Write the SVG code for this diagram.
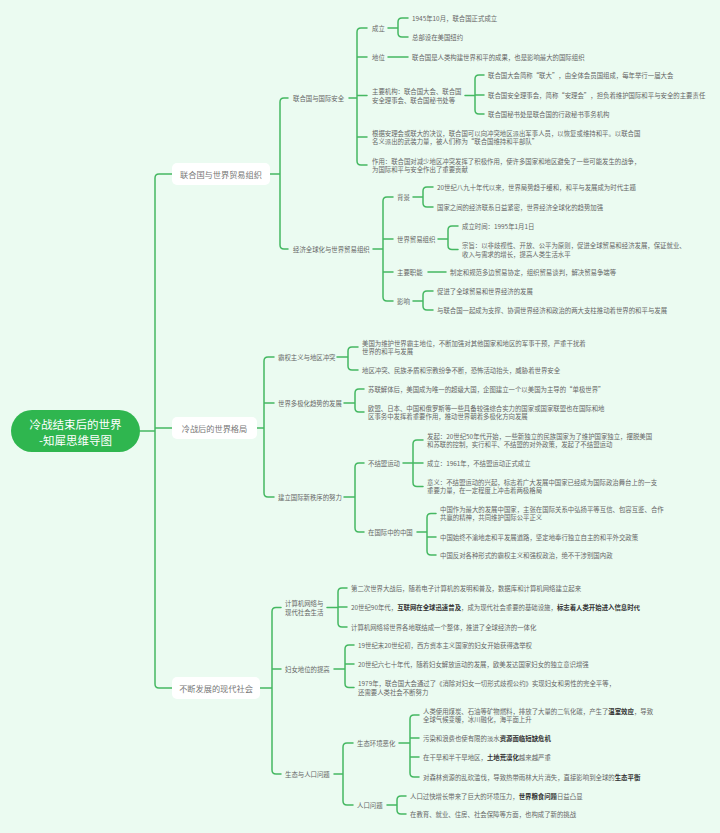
<svg xmlns="http://www.w3.org/2000/svg" width="720" height="833" viewBox="0 0 720 833">
<style>
.bg{fill:#EBFBF1}
.c path{fill:none;stroke:#45B862;stroke-width:1.5;stroke-linecap:round}
text{font-family:"Noto Sans CJK SC","Noto Sans",sans-serif;dominant-baseline:central}
.t{font-size:6.4px;fill:#666}
.l1{font-size:8.2px;fill:#777;text-anchor:middle}
.box{fill:#FFFFFF}
.root{fill:#2FB64F}
.rt{font-size:11.5px;fill:#FFFFFF;text-anchor:middle}
.b{font-weight:bold;fill:#333}
</style>
<rect class="bg" x="0" y="0" width="720" height="833"/>
<g class="c" id="connectors">
<path d="M140,431 H155 M172,174 H159 Q155,174 155,178 V684 Q155,688 159,688 H172 M155,428 H172"/>
<path d="M270,174 H280 M288,98 H284 Q280,98 280,102 V245 Q280,249 284,249 H288"/>
<path d="M349,98 H357 M367,28 H361 Q357,28 357,32 V161 Q357,165 361,165 H367 M357,57 H367 M357,95.5 H367 M357,137 H367"/>
<path d="M388,28 H398 M408,18 H402 Q398,18 398,22 V33 Q398,37 402,37 H408"/>
<path d="M388,57 H408"/>
<path d="M465,95.5 H475 M484,75 H479 Q475,75 475,79 V110 Q475,114 479,114 H484 M475,95 H484"/>
<path d="M373,249 H383 M393,197 H387 Q383,197 383,201 V297 Q383,301 387,301 H393 M383,239 H393 M383,272 H393"/>
<path d="M413,197 H423 M433,187 H427 Q423,187 423,191 V203 Q423,207 427,207 H433"/>
<path d="M438,239 H448 M458,226 H452 Q448,226 448,230 V245.5 Q448,249.5 452,249.5 H458"/>
<path d="M428,272 H446"/>
<path d="M413,301 H423 M433,291 H427 Q423,291 423,295 V306 Q423,310 427,310 H433"/>
<path d="M257,428 H264 M274,357 H268 Q264,357 264,361 V493 Q264,497 268,497 H274 M264,403 H274"/>
<path d="M337,357 H348 M358,347 H352 Q348,347 348,351 V366 Q348,370 352,370 H358"/>
<path d="M344,403 H355 M364,389 H359 Q355,389 355,393 V408 Q355,412 359,412 H364"/>
<path d="M344,497 H355 M364,463 H359 Q355,463 355,467 V528 Q355,532 359,532 H364"/>
<path d="M403,463 H413 M423,440 H417 Q413,440 413,444 V482.5 Q413,486.5 417,486.5 H423 M413,463 H423"/>
<path d="M417,532 H427 M436,513.5 H431 Q427,513.5 427,517.5 V551 Q427,555 431,555 H436 M427,537 H436"/>
<path d="M260,688 H272 M281,607.5 H276 Q272,607.5 272,611.5 V770 Q272,774 276,774 H281 M272,669 H281"/>
<path d="M327,607.5 H338 M347,588 H342 Q338,588 338,592 V623 Q338,627 342,627 H347 M338,607 H347"/>
<path d="M334,669 H345 M354,645 H349 Q345,645 345,649 V683.5 Q345,687.5 349,687.5 H354 M345,664 H354"/>
<path d="M334,774 H343 M353,743 H347 Q343,743 343,747 V801 Q343,805 347,805 H353"/>
<path d="M399,743 H410 M419,715 H414 Q410,715 410,719 V773 Q410,777 414,777 H419 M410,738 H419 M410,757 H419"/>
<path d="M387,805 H397 M406,796 H401 Q397,796 397,800 V810 Q397,814 401,814 H406"/>
</g>
<g id="root">
<rect class="root" x="11" y="410" width="129" height="42" rx="21"/>
<text class="rt" x="75.5" y="423.5">冷战结束后的世界</text>
<text class="rt" x="75.5" y="439.5">-知犀思维导图</text>
</g>
<g id="n1">
<rect class="box" x="172" y="163" width="98" height="22" rx="5"/>
<text class="l1" x="221" y="174">联合国与世界贸易组织</text>
</g>
<g id="n2">
<rect class="box" x="172" y="417" width="85" height="22" rx="5"/>
<text class="l1" x="214.5" y="428">冷战后的世界格局</text>
</g>
<g id="n3">
<rect class="box" x="172" y="677" width="88" height="22" rx="5"/>
<text class="l1" x="216" y="688">不断发展的现代社会</text>
</g>
<g id="n1a"><text class="t" x="293" y="98">联合国与国际安全</text></g>
<g id="n1a1"><text class="t" x="372" y="28">成立</text></g>
<g id="n1a1a"><text class="t" x="412" y="18">1945年10月，联合国正式成立</text></g>
<g id="n1a1b"><text class="t" x="412" y="37">总部设在美国纽约</text></g>
<g id="n1a2"><text class="t" x="372" y="57">地位</text></g>
<g id="n1a2a"><text class="t" x="412" y="57">联合国是人类构建世界和平的成果，也是影响最大的国际组织</text></g>
<g id="n1a3"><text class="t" x="372" y="91">主要机构：联合国大会、联合国</text><text class="t" x="372" y="100.5">安全理事会、联合国秘书处等</text></g>
<g id="n1a3a"><text class="t" x="488" y="75">联合国大会简称“联大”，由全体会员国组成，每年举行一届大会</text></g>
<g id="n1a3b"><text class="t" x="488" y="95">联合国安全理事会，简称“安理会”，担负着维护国际和平与安全的主要责任</text></g>
<g id="n1a3c"><text class="t" x="488" y="114">联合国秘书处是联合国的行政秘书事务机构</text></g>
<g id="n1a4"><text class="t" x="372" y="133">根据安理会或联大的决议，联合国可以向冲突地区派出军事人员，以恢复或维持和平。以联合国</text><text class="t" x="372" y="141.5">名义派出的武装力量，被人们称为“联合国维持和平部队”</text></g>
<g id="n1a5"><text class="t" x="372" y="161">作用：联合国对减少地区冲突发挥了积极作用，使许多国家和地区避免了一些可能发生的战争，</text><text class="t" x="372" y="169.5">为国际和平与安全作出了重要贡献</text></g>
<g id="n1b"><text class="t" x="293" y="249">经济全球化与世界贸易组织</text></g>
<g id="n1b1"><text class="t" x="397" y="197">背景</text></g>
<g id="n1b1a"><text class="t" x="437" y="187">20世纪八九十年代以来，世界局势趋于缓和，和平与发展成为时代主题</text></g>
<g id="n1b1b"><text class="t" x="437" y="207">国家之间的经济联系日益紧密，世界经济全球化的趋势加强</text></g>
<g id="n1b2"><text class="t" x="397" y="239">世界贸易组织</text></g>
<g id="n1b2a"><text class="t" x="462" y="226">成立时间：1995年1月1日</text></g>
<g id="n1b2b"><text class="t" x="462" y="245">宗旨：以非歧视性、开放、公平为原则，促进全球贸易和经济发展，保证就业、</text><text class="t" x="462" y="254">收入与需求的增长，提高人类生活水平</text></g>
<g id="n1b3"><text class="t" x="397" y="272">主要职能</text></g>
<g id="n1b3a"><text class="t" x="450" y="272">制定和规范多边贸易协定，组织贸易谈判，解决贸易争端等</text></g>
<g id="n1b4"><text class="t" x="397" y="301">影响</text></g>
<g id="n1b4a"><text class="t" x="437" y="291">促进了全球贸易和世界经济的发展</text></g>
<g id="n1b4b"><text class="t" x="437" y="310">与联合国一起成为支撑、协调世界经济和政治的两大支柱推动着世界的和平与发展</text></g>
<g id="n2a"><text class="t" x="278" y="357">霸权主义与地区冲突</text></g>
<g id="n2a1"><text class="t" x="362" y="343">美国为维护世界霸主地位，不断加强对其他国家和地区的军事干预，严重干扰着</text><text class="t" x="362" y="351.5">世界的和平与发展</text></g>
<g id="n2a2"><text class="t" x="362" y="370">地区冲突、民族矛盾和宗教纷争不断，恐怖活动抬头，威胁着世界安全</text></g>
<g id="n2b"><text class="t" x="278" y="403">世界多极化趋势的发展</text></g>
<g id="n2b1"><text class="t" x="368" y="389">苏联解体后，美国成为唯一的超级大国，企图建立一个以美国为主导的“单极世界”</text></g>
<g id="n2b2"><text class="t" x="368" y="408">欧盟、日本、中国和俄罗斯等一些具备较强综合实力的国家或国家联盟也在国际和地</text><text class="t" x="368" y="416.5">区事务中发挥着重要作用，推动世界朝着多极化方向发展</text></g>
<g id="n2c"><text class="t" x="278" y="497">建立国际新秩序的努力</text></g>
<g id="n2c1"><text class="t" x="368" y="463">不结盟运动</text></g>
<g id="n2c1a"><text class="t" x="427" y="436">发起：20世纪50年代开始，一些新独立的民族国家为了维护国家独立，摆脱美国</text><text class="t" x="427" y="444.5">和苏联的控制，实行和平、不结盟的对外政策，发起了不结盟运动</text></g>
<g id="n2c1b"><text class="t" x="427" y="463">成立：1961年，不结盟运动正式成立</text></g>
<g id="n2c1c"><text class="t" x="427" y="482">意义：不结盟运动的兴起，标志着广大发展中国家已经成为国际政治舞台上的一支</text><text class="t" x="427" y="490.5">重要力量，在一定程度上冲击着两极格局</text></g>
<g id="n2c2"><text class="t" x="368" y="532">在国际中的中国</text></g>
<g id="n2c2a"><text class="t" x="440" y="509">中国作为最大的发展中国家，主张在国际关系中弘扬平等互信、包容互鉴、合作</text><text class="t" x="440" y="517.5">共赢的精神，共同维护国际公平正义</text></g>
<g id="n2c2b"><text class="t" x="440" y="537">中国始终不渝地走和平发展道路，坚定地奉行独立自主的和平外交政策</text></g>
<g id="n2c2c"><text class="t" x="440" y="555">中国反对各种形式的霸权主义和强权政治，绝不干涉别国内政</text></g>
<g id="n3a"><text class="t" x="285" y="603">计算机网络与</text><text class="t" x="285" y="612">现代社会生活</text></g>
<g id="n3a1"><text class="t" x="351" y="588">第二次世界大战后，随着电子计算机的发明和普及，数据库和计算机网络建立起来</text></g>
<g id="n3a2"><text class="t" x="351" y="607">20世纪90年代，<tspan class="b">互联网在全球迅速普及</tspan>，成为现代社会重要的基础设施，<tspan class="b">标志着人类开始进入信息时代</tspan></text></g>
<g id="n3a3"><text class="t" x="351" y="627">计算机网络将世界各地联结成一个整体，推进了全球经济的一体化</text></g>
<g id="n3b"><text class="t" x="285" y="669">妇女地位的提高</text></g>
<g id="n3b1"><text class="t" x="358" y="645">19世纪末20世纪初，西方资本主义国家的妇女开始获得选举权</text></g>
<g id="n3b2"><text class="t" x="358" y="664">20世纪六七十年代，随着妇女解放运动的发展，欧美发达国家妇女的独立意识增强</text></g>
<g id="n3b3"><text class="t" x="358" y="683">1979年，联合国大会通过了《消除对妇女一切形式歧视公约》实现妇女和男性的完全平等，</text><text class="t" x="358" y="692">还需要人类社会不断努力</text></g>
<g id="n3c"><text class="t" x="285" y="774">生态与人口问题</text></g>
<g id="n3c1"><text class="t" x="357" y="743">生态环境恶化</text></g>
<g id="n3c1a"><text class="t" x="423" y="711">人类使用煤炭、石油等矿物燃料，排放了大量的二氧化碳，产生了<tspan class="b">温室效应</tspan>，导致</text><text class="t" x="423" y="719.5">全球气候变暖，冰川融化，海平面上升</text></g>
<g id="n3c1b"><text class="t" x="423" y="738">污染和浪费也使有限的淡水<tspan class="b">资源面临短缺危机</tspan></text></g>
<g id="n3c1c"><text class="t" x="423" y="757">在干旱和半干旱地区，<tspan class="b">土地荒漠化</tspan>越来越严重</text></g>
<g id="n3c1d"><text class="t" x="423" y="777">对森林资源的乱砍滥伐，导致热带雨林大片消失，直接影响到全球的<tspan class="b">生态平衡</tspan></text></g>
<g id="n3c2"><text class="t" x="357" y="805">人口问题</text></g>
<g id="n3c2a"><text class="t" x="410" y="796">人口过快增长带来了巨大的环境压力，<tspan class="b">世界粮食问题</tspan>日益凸显</text></g>
<g id="n3c2b"><text class="t" x="410" y="814">在教育、就业、住房、社会保障等方面，也构成了新的挑战</text></g>
</svg>
